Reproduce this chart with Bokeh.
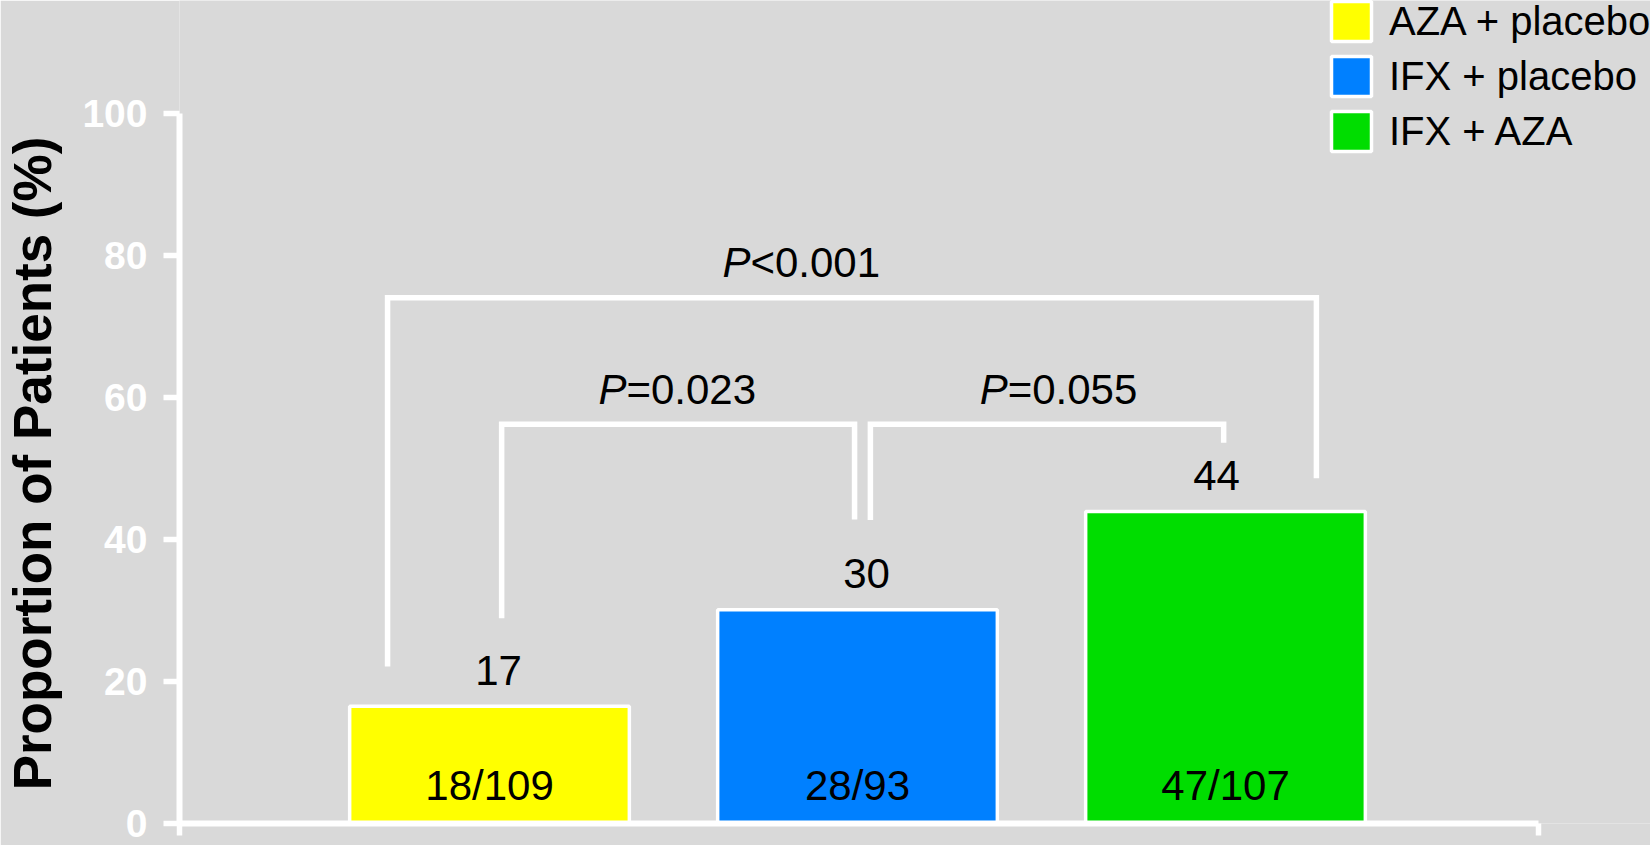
from bokeh.plotting import figure
from bokeh.models import (Range1d, FixedTicker, Legend, LegendItem,
                          ColumnDataSource, CustomJSTickFormatter)
from bokeh.core.properties import value
from bokeh.embed import file_html
from bokeh.resources import INLINE

# ---------------- data ----------------
groups = ["AZA + placebo", "IFX + placebo", "IFX + AZA"]
pct = [16.5, 30.1, 43.9]
pct_labels = ["17", "30", "44"]
counts = ["18/109", "28/93", "47/107"]
colors = ["#FFFF00", "#0080FF", "#00DD00"]
y_ticks = [0, 20, 40, 60, 80, 100]
y_title = "Proportion of Patients (%)"

# pairwise comparisons (x in bar-position units, y in %)
cmp_x0 = [0.723, 1.033, 2.035]
cmp_x1 = [3.247, 1.992, 2.995]
cmp_top = [74.0, 56.2, 56.2]
cmp_left_end = [22.1, 28.9, 42.7]
cmp_right_end = [48.6, 42.8, 53.6]
cmp_p = ["<0.001", "=0.023", "=0.055"]
cmp_label_x = [1.633, 1.296, 2.332]
cmp_label_y = [77.0, 59.1, 59.1]

# ---------------- layout / styling ----------------
FONT = "Liberation Sans"
BG = "#D9D9D9"
W, H = 1650, 845
LEFT, BOTTOM = 179, 22            # frame left / bottom border in px
PX_PER_X = 368.0                  # px per bar slot
PX_PER_Y = 7.105                  # px per percent
X0 = 0.1576
X_END = X0 + (W - LEFT) / PX_PER_X
X_AXIS_END = 3.8505
Y_END = (H - BOTTOM) / PX_PER_Y
value_dx = [9, 9, -9]
TXT = "42px"
# non-breaking spaces after the title shift it so that it is centred
# on the 0-100 part of the axis rather than on the whole frame
TITLE_SHIFT = "\u00a0" * 7

xpos = list(range(1, len(groups) + 1))

p = figure(width=W, height=H,
           x_range=Range1d(X0, X_END), y_range=Range1d(0, Y_END),
           output_backend="svg", toolbar_location=None,
           min_border_left=LEFT, min_border_right=0,
           min_border_top=0, min_border_bottom=BOTTOM,
           background_fill_color=BG, border_fill_color=BG,
           outline_line_color=None)
p.grid.visible = False

src = ColumnDataSource(dict(x=xpos, top=pct, color=colors, group=groups,
                            lab=pct_labels, cnt=counts, dx=value_dx))

bars = p.vbar(x="x", top="top", bottom=0, width=0.76, source=src,
              fill_color="color", line_color="white", line_width=3.5)

# value labels above bars
p.text(x="x", y="top", text="lab", source=src, x_offset="dx", y_offset=-36,
       text_align="center", text_baseline="alphabetic",
       text_font=value(FONT), text_font_size=TXT, text_color="black")
# counts inside bars
p.text(x="x", y=0, text="cnt", source=src, y_offset=-38,
       text_align="center", text_baseline="alphabetic",
       text_font=value(FONT), text_font_size=TXT, text_color="black")

# comparison brackets
xs = [[a, a, b, b] for a, b in zip(cmp_x0, cmp_x1)]
ys = [[l, t, t, r] for l, t, r in zip(cmp_left_end, cmp_top, cmp_right_end)]
p.multi_line(xs=xs, ys=ys, line_color="white", line_width=5.5,
             line_join="miter", line_cap="butt")

p.text(x=cmp_label_x, y=cmp_label_y, text=["P"] * len(cmp_p), y_offset=-14,
       text_align="left", text_baseline="alphabetic",
       text_font=value(FONT), text_font_style="italic",
       text_font_size=TXT, text_color="black")
p.text(x=cmp_label_x, y=cmp_label_y, text=cmp_p, x_offset=28, y_offset=-14,
       text_align="left", text_baseline="alphabetic",
       text_font=value(FONT), text_font_size=TXT, text_color="black")

# y axis
ya = p.yaxis[0]
ya.ticker = FixedTicker(ticks=y_ticks)
ya.bounds = (y_ticks[0], y_ticks[-1])
ya.axis_line_color = "white"
ya.axis_line_width = 6
ya.major_tick_line_color = "white"
ya.major_tick_line_width = 5.5
ya.major_tick_out = 16
ya.major_tick_in = 0
ya.minor_tick_line_color = None
ya.major_label_text_color = "white"
ya.major_label_text_font = FONT
ya.major_label_text_font_style = "bold"
ya.major_label_text_font_size = "39px"
ya.major_label_standoff = 16
ya.axis_label = y_title + TITLE_SHIFT
ya.axis_label_text_font = FONT
ya.axis_label_text_font_style = "bold"
ya.axis_label_text_font_size = "53px"
ya.axis_label_text_color = "black"
ya.axis_label_standoff = 17

# x axis (line with end ticks only)
xa = p.xaxis[0]
xa.ticker = FixedTicker(ticks=[X0, X_AXIS_END])
xa.bounds = (X0, X_AXIS_END)
xa.formatter = CustomJSTickFormatter(code="return ''")
xa.axis_line_color = "white"
xa.axis_line_width = 6
xa.major_tick_line_color = "white"
xa.major_tick_line_width = 5.5
xa.major_tick_out = 12
xa.major_tick_in = 0
xa.minor_tick_line_color = None
xa.major_label_standoff = 0

legend = Legend(items=[LegendItem(label=value(g), renderers=[bars], index=i)
                       for i, g in enumerate(groups)],
                location=(1147, 667), orientation="vertical",
                glyph_width=50, glyph_height=50, label_standoff=13,
                label_text_font=FONT, label_text_font_size="40px",
                label_text_color="black",
                spacing=5, padding=0, margin=0,
                border_line_color=None, background_fill_alpha=0)
p.add_layout(legend)

open("out.html", "w").write(file_html(p, INLINE))
